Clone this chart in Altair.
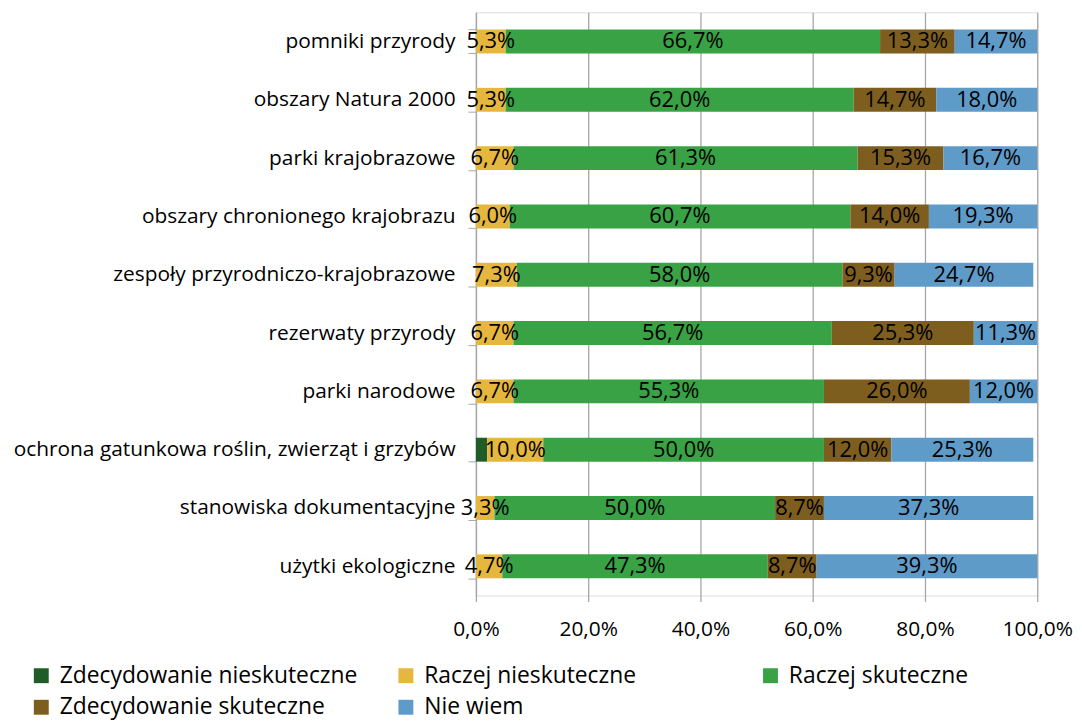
import altair as alt
import pandas as pd

categories = [
    "pomniki przyrody",
    "obszary Natura 2000",
    "parki krajobrazowe",
    "obszary chronionego krajobrazu",
    "zespoły przyrodniczo-krajobrazowe",
    "rezerwaty przyrody",
    "parki narodowe",
    "ochrona gatunkowa roślin, zwierząt i grzybów",
    "stanowiska dokumentacyjne",
    "użytki ekologiczne",
]
series = [
    "Zdecydowanie nieskuteczne",
    "Raczej nieskuteczne",
    "Raczej skuteczne",
    "Zdecydowanie skuteczne",
    "Nie wiem",
]
colors = ["#1e5c28", "#e6b73e", "#38a245", "#7e5e1f", "#5f9bc9"]

zdec_niesk = [0.0, 0.0, 0.0, 0.0, 0.0, 0.0, 0.0, 2.0, 0.0, 0.0]
raczej_niesk = [5.3, 5.3, 6.7, 6.0, 7.3, 6.7, 6.7, 10.0, 3.3, 4.7]
raczej_sk = [66.7, 62.0, 61.3, 60.7, 58.0, 56.7, 55.3, 50.0, 50.0, 47.3]
zdec_sk = [13.3, 14.7, 15.3, 14.0, 9.3, 25.3, 26.0, 12.0, 8.7, 8.7]
nie_wiem = [14.7, 18.0, 16.7, 19.3, 24.7, 11.3, 12.0, 25.3, 37.3, 39.3]
show_label = [False, True, True, True, True]
x_ticks = [0, 20, 40, 60, 80, 100]

rows = []
for si, (name, vals) in enumerate(zip(series, [zdec_niesk, raczej_niesk, raczej_sk, zdec_sk, nie_wiem])):
    for c, v in zip(categories, vals):
        if v > 0:
            rows.append({
                "kategoria": c,
                "seria": name,
                "ord": si,
                "v": v,
                "lab": (f"{v:.1f}".replace(".", ",") + "%") if show_label[si] else "",
            })
df = pd.DataFrame(rows)

FONT = "Open Sans"
FS_CAT = 21
FS_VAL = 22
FS_TICK = 21
FS_LEG = 23

base = alt.Chart(df).encode(
    y=alt.Y(
        "kategoria:N",
        sort=categories,
        title=None,
        scale=alt.Scale(paddingInner=0.59, paddingOuter=0.295),
        axis=alt.Axis(
            tickBand="extent",
            tickSize=8,
            labelPadding=13,
            domainColor="#a6a6a6",
            tickColor="#a6a6a6",
            domainWidth=1.3,
            labelFont=FONT,
            labelFontSize=FS_CAT,
            labelColor="#000000",
            labelLimit=600,
            grid=False,
        ),
    ),
)

bars = base.mark_bar().encode(
    x=alt.X(
        "v:Q",
        stack="zero",
        title=None,
        scale=alt.Scale(domain=[0, 100], nice=False),
        axis=alt.Axis(
            values=x_ticks,
            labelExpr="replace(format(datum.value, '.1f'), '.', ',') + '%'",
            labelFlush=False,
            domain=False,
            grid=True,
            gridColor="#a6a6a6",
            gridWidth=1.3,
            tickColor="#a6a6a6",
            tickWidth=1.3,
            tickSize=6,
            labelPadding=17,
            labelFont=FONT,
            labelFontSize=FS_TICK,
            labelColor="#000000",
        ),
    ),
    color=alt.Color(
        "seria:N",
        sort=series,
        scale=alt.Scale(domain=series, range=colors),
        legend=alt.Legend(
            title=None,
            orient="none",
            legendX=-449,
            legendY=656,
            direction="horizontal",
            columns=3,
            gridAlign="all",
            columnPadding=37,
            rowPadding=8,
            symbolType="square",
            symbolSize=225,
            symbolStrokeWidth=0,
            symbolOpacity=1,
            labelOffset=7,
            labelFont=FONT,
            labelFontSize=FS_LEG,
            labelColor="#000000",
            labelLimit=600,
        ),
    ),
    order=alt.Order("ord:Q"),
)

texts = base.transform_stack(
    stack="v", groupby=["kategoria"], as_=["x0", "x1"], sort=[alt.SortField("ord")]
).transform_calculate(mid="(datum.x0 + datum.x1) / 2").mark_text(
    font=FONT, fontSize=FS_VAL, color="#000000", baseline="middle", align="center"
).encode(
    x=alt.X("mid:Q"),
    text="lab:N",
)

chart = (
    alt.layer(bars, texts)
    .properties(
        width=565,
        height=587,
        autosize=alt.AutoSizeParams(type="none"),
        padding={"left": 471, "top": 2, "right": 37, "bottom": 125},
    )
    .configure_view(stroke=None)
    .configure(background="#ffffff")
)

chart.save("out.html", embed_options={"renderer": "svg", "actions": False})
